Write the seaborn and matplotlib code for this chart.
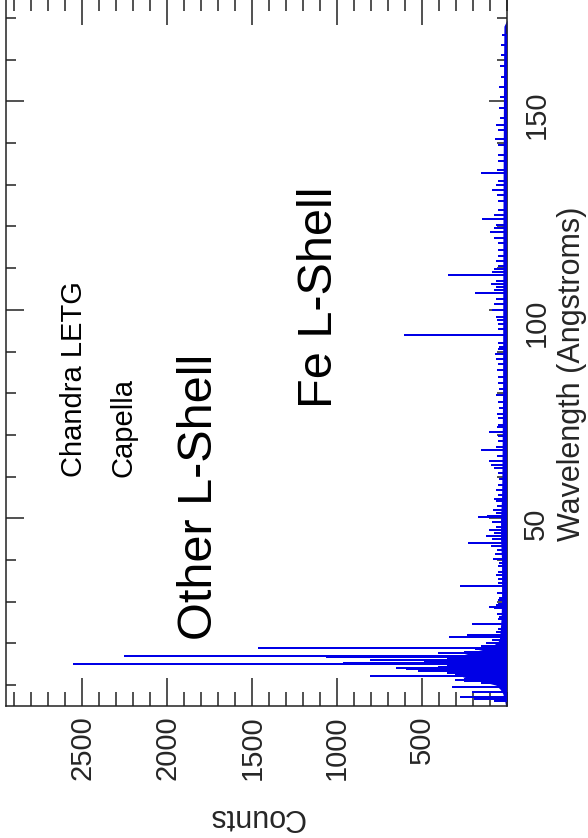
import numpy as np
import pandas as pd
import matplotlib
matplotlib.use("Agg")
import matplotlib.pyplot as plt
from matplotlib.ticker import MultipleLocator, FixedLocator
import seaborn as sns

# Capella, Chandra LETG: emission lines (wavelength in Angstroms, peak counts)
line_wavelength = [
    6.18, 6.65, 7.2, 8.42, 9.6,
    10.6, 11.0, 11.25, 11.53, 11.75, 12.13, 12.27, 12.43, 12.83, 13.0,
    13.45, 13.52, 13.82, 14.06, 14.21, 14.37, 14.54, 15.01, 15.26, 15.45,
    15.63, 15.83, 16.0, 16.07, 16.34, 16.78, 17.05, 17.10, 17.62, 18.0,
    18.63, 18.97, 19.3, 20.0, 20.91, 21.6, 21.8, 22.1,
    22.8, 23.4, 24.78, 25.8, 26.4, 27.0, 28.47, 28.79, 29.1, 29.5,
    30.4, 31.0, 32.0, 33.74, 34.4, 35.5, 36.4, 37.2, 38.5, 39.2,
    40.27, 41.5, 42.5, 43.3, 44.16, 45.0, 45.68, 46.4, 47.3, 48.0,
    49.2, 50.35, 50.56, 51.2, 52.0, 52.9, 54.1, 54.7, 55.6, 56.9,
    58.0, 59.4, 60.8, 62.0, 62.9, 63.7, 65.0, 66.3, 67.2, 68.5,
    69.7, 70.6, 71.8, 72.3, 74.0, 75.0, 76.5, 77.8, 79.5, 81.0,
    82.4, 84.0, 85.5, 87.0, 88.1, 89.5, 90.6, 91.0, 92.0, 93.92,
    95.4, 96.5, 97.5, 98.3, 100.0, 101.5, 102.5, 103.94, 104.8, 105.5,
    106.3, 107.0, 108.37, 109.0, 109.9, 110.6, 111.7, 113.0, 114.4, 116.0,
    117.2, 118.7, 119.6, 120.4, 121.83, 122.7, 124.0, 126.2, 127.5, 128.7,
    129.9, 131.0, 132.85, 133.5, 135.6, 137.0, 139.5, 141.0, 143.0, 144.2,
    146.0, 148.3, 151.0, 153.5, 155.8, 158.5, 161.0, 163.5, 166.0,
]
line_counts = [
    70, 190, 270, 200, 320,
    150, 250, 300, 250, 220, 800, 420, 300, 350, 300,
    520, 400, 590, 380, 650, 400, 350, 2550, 960, 380,
    480, 350, 800, 600, 350, 1060, 2250, 1325, 400, 250,
    180, 1460, 150, 120, 80, 335, 90, 230,
    60, 45, 200, 50, 40, 55, 70, 100, 60, 45,
    50, 40, 55, 270, 50, 45, 60, 45, 50, 40,
    75, 65, 55, 90, 225, 80, 120, 70, 100, 60,
    85, 165, 110, 60, 75, 55, 60, 70, 50, 60,
    45, 40, 50, 70, 90, 100, 55, 150, 60, 45,
    50, 100, 55, 50, 45, 55, 40, 45, 60, 40,
    45, 50, 55, 45, 60, 65, 45, 40, 50, 600,
    45, 50, 55, 60, 85, 70, 60, 185, 70, 60,
    90, 60, 340, 80, 70, 50, 60, 45, 50, 45,
    70, 95, 70, 60, 140, 70, 45, 50, 55, 85,
    60, 50, 145, 55, 50, 45, 50, 65, 45, 60,
    35, 40, 35, 40, 30, 35, 30, 30, 25,
]

# Blended pseudo-continuum under the line forest
cont_wavelength = [5.0, 6.5, 8.0, 9.0, 10.0, 10.7, 11.3, 12.0, 13.0, 14.0, 15.0,
                   16.0, 17.0, 18.0, 18.8, 19.5, 20.3, 21.0, 23.0, 26.0, 30.0,
                   40.0, 45.0, 50.0, 55.0, 60.0, 70.0, 80.0, 100.0, 120.0, 140.0,
                   160.0, 168.0, 169.5]
cont_counts = [8, 15, 25, 40, 65, 130, 200, 260, 300, 310, 310,
               300, 280, 200, 120, 85, 55, 45, 40, 35, 32,
               32, 38, 38, 32, 30, 28, 26, 25, 24, 22,
               20, 18, 0]

count_ticks = [500, 1000, 1500, 2000, 2500]
wave_ticks = [50, 100, 150]

BLUE = "#0000e6"
INK = "#222222"

sns.set_theme(style="ticks")
plt.rcParams["font.family"] = ["Liberation Sans", "DejaVu Sans"]

# Spectrum as a comb: each line rises from zero to its peak and back
order = np.argsort(line_wavelength)
rows = []
for k, i in enumerate(order):
    wl, ct = line_wavelength[i], line_counts[i]
    rows += [(3 * k, wl, 0.0), (3 * k + 1, wl, ct), (3 * k + 2, wl, 0.0)]
spec = pd.DataFrame(rows, columns=["step", "wavelength", "counts"])

fig = plt.figure(figsize=(5.88, 8.38), dpi=100)
ax = fig.add_axes([6 / 588, (838 - 706) / 838, (507 - 6) / 588, 709 / 838])

ax.fill_betweenx(cont_wavelength, 0, cont_counts, color=BLUE, lw=0, zorder=2)
sns.lineplot(data=spec, x="counts", y="wavelength", sort=False, estimator=None,
             orient="y", color=BLUE, lw=1.4, ax=ax, zorder=3)

ax.set_xlim(2950, 0)
ax.set_ylim(5, 175)

ax.xaxis.set_major_locator(FixedLocator(count_ticks))
ax.xaxis.set_minor_locator(MultipleLocator(100))
ax.yaxis.set_major_locator(FixedLocator(wave_ticks))
ax.yaxis.set_minor_locator(MultipleLocator(10))

ax.tick_params(axis="x", which="both", direction="in", top=True, bottom=True,
               labelrotation=90, labelsize=21, pad=6.5, color=INK, width=1.1)
ax.tick_params(axis="x", which="major", length=20)
ax.tick_params(axis="x", which="minor", length=10)
ax.tick_params(axis="y", which="both", direction="in", left=True, right=True,
               labelleft=False, labelright=True, labelrotation=90,
               labelsize=21, pad=11, color=INK, width=1.1)
ax.tick_params(axis="y", which="major", length=13)
ax.tick_params(axis="y", which="minor", length=7)

for s in ax.spines.values():
    s.set_color(INK)
    s.set_linewidth(1.1)

ax.set_xlabel("Counts", rotation=180, fontsize=22, va="center")
ax.xaxis.set_label_coords(0.5, (706 - 817) / 709)
ax.yaxis.set_label_position("right")
ax.set_ylabel("Wavelength (Angstroms)", fontsize=22)
ax.yaxis.set_label_coords((557 - 6) / 501, (706 - 374) / 709)


def px(x, y):
    return (x - 6) / 501, (706 - y) / 709


for label, (x, y), size in [
    ("Chandra LETG", (82, 477), 21),
    ("Capella", (132, 477), 21),
    ("Other L-Shell", (212, 640), 35),
    ("Fe L-Shell", (332, 408), 35),
]:
    ax.text(*px(x, y), label, transform=ax.transAxes, rotation=90,
            rotation_mode="anchor", ha="left", va="baseline",
            fontsize=size, color="black")

fig.savefig("out.png", dpi=100, facecolor="white")
